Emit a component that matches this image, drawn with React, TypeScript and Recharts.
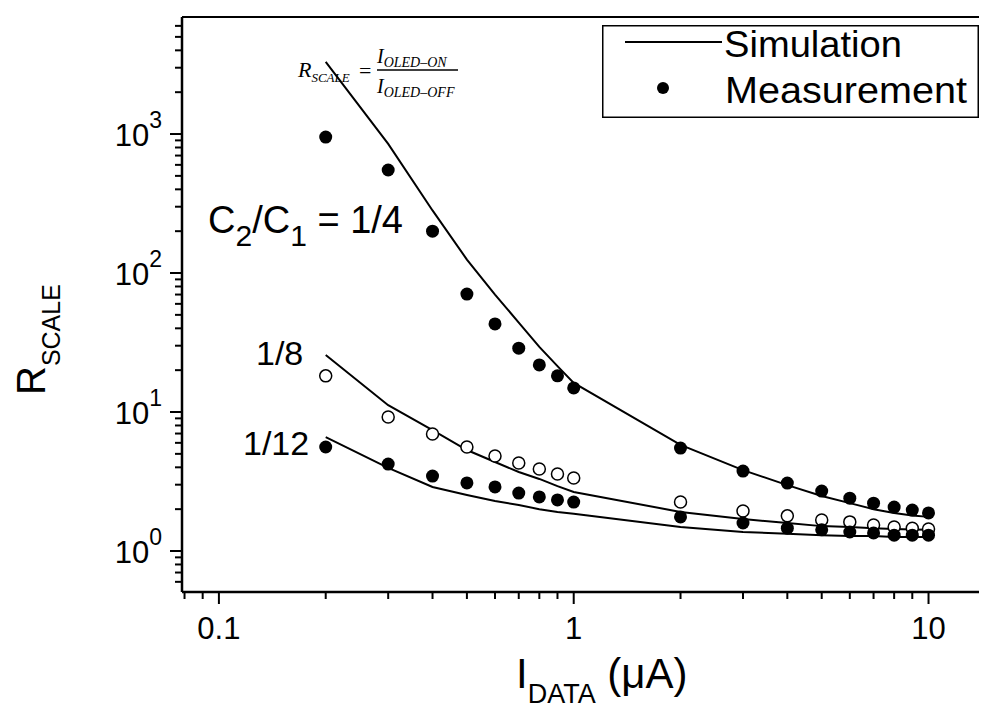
import { ScatterChart, Scatter, XAxis, YAxis, ReferenceLine, Legend } from "recharts";

// I_DATA (uA) where both simulation and measurement were read
const currents = [0.2, 0.3, 0.4, 0.5, 0.6, 0.7, 0.8, 0.9, 1, 2, 3, 4, 5, 6, 7, 8, 9, 10];

// R_SCALE, C2/C1 = 1/4
const sim14 = [3300, 850, 282, 125, 70, 44, 29.4, 21.4, 16.2, 5.8, 3.82, 2.98, 2.49, 2.21, 2.0, 1.88, 1.8, 1.76];
const meas14 = [951, 551, 200, 70.6, 43, 28.8, 21.8, 18.2, 14.9, 5.5, 3.76, 3.08, 2.7, 2.4, 2.21, 2.07, 1.97, 1.88];
// C2/C1 = 1/8
const sim18 = [25.7, 11.2, 7.42, 5.33, 4.37, 3.7, 3.3, 2.93, 2.66, 1.91, 1.7, 1.59, 1.51, 1.49, 1.46, 1.44, 1.43, 1.42];
const meas18 = [18.2, 9.2, 6.95, 5.6, 4.82, 4.3, 3.89, 3.58, 3.35, 2.25, 1.94, 1.79, 1.67, 1.62, 1.54, 1.49, 1.46, 1.44];
// C2/C1 = 1/12
const sim112 = [6.6, 3.96, 2.89, 2.53, 2.29, 2.14, 2.0, 1.91, 1.85, 1.49, 1.37, 1.33, 1.3, 1.28, 1.28, 1.26, 1.26, 1.26];
const meas112 = [5.6, 4.22, 3.46, 3.09, 2.89, 2.61, 2.45, 2.33, 2.25, 1.76, 1.59, 1.46, 1.42, 1.37, 1.35, 1.3, 1.3, 1.3];

const xTicks = [0.08, 0.09, 0.1, 0.2, 0.3, 0.4, 0.5, 0.6, 0.7, 0.8, 0.9, 1, 2, 3, 4, 5, 6, 7, 8, 9, 10];
const yTicks = [
  0.6, 0.7, 0.8, 0.9, 1, 2, 3, 4, 5, 6, 7, 8, 9, 10, 20, 30, 40, 50, 60, 70, 80, 90,
  100, 200, 300, 400, 500, 600, 700, 800, 900, 1000, 2000, 3000, 4000, 5000, 6000,
];
const xLabels: Record<string, string> = { "0.1": "0.1", "1": "1", "10": "10" };
const legendNames = ["Simulation", "Measurement"];

const X_DOMAIN = [0.0787, 15];
const Y_DOMAIN = [0.507, 6950];

const pts = (ys: number[]) => currents.map((x, i) => ({ x, y: ys[i] }));

const isMajor = (v: number) => {
  const l = Math.log10(v);
  return Math.abs(l - Math.round(l)) < 1e-6;
};

const FONT = "'Liberation Sans', Arial, sans-serif";

const XTick = (p: any) => {
  const { x, y, payload } = p;
  const major = isMajor(payload.value);
  return (
    <g>
      <line x1={x} x2={x} y1={y} y2={y + (major ? 12 : 7)} stroke="#000" strokeWidth={2} />
      {major && (
        <text x={x} y={y + 47} textAnchor="middle" fontSize={31} fill="#000">
          {xLabels[String(payload.value)]}
        </text>
      )}
    </g>
  );
};

const YTick = (p: any) => {
  const { x, y, payload } = p;
  const major = isMajor(payload.value);
  return (
    <g>
      <line x1={x} x2={x - (major ? 12 : 7)} y1={y} y2={y} stroke="#000" strokeWidth={2} />
      {major && (
        <text x={x - 20} y={y + 12} textAnchor="end" fontSize={31} fill="#000">
          10
          <tspan fontSize={23} dy={-18}>
            {Math.round(Math.log10(payload.value))}
          </tspan>
        </text>
      )}
    </g>
  );
};

const dot = (p: any) => <circle cx={p.cx} cy={p.cy} r={6.5} fill="#000" />;
const ring = (p: any) => <circle cx={p.cx} cy={p.cy} r={6} fill="#fff" stroke="#000" strokeWidth={1.5} />;
const none = () => <g />;

const LegendBox = () => (
  <svg width={377} height={93} style={{ display: "block" }}>
    <rect x={0.75} y={0.75} width={375.5} height={91.5} fill="#fff" stroke="#000" strokeWidth={1.5} />
    <line x1={23} x2={120} y1={17} y2={17} stroke="#000" strokeWidth={2} />
    <text x={122} y={32} fontSize={36} fill="#000" textLength={178} lengthAdjust="spacingAndGlyphs">
      {legendNames[0]}
    </text>
    <circle cx={61} cy={63} r={6} fill="#000" />
    <text x={123} y={78} fontSize={36} fill="#000" textLength={242} lengthAdjust="spacingAndGlyphs">
      {legendNames[1]}
    </text>
  </svg>
);

export default function App() {
  const serif = "'Liberation Serif', 'Times New Roman', serif";
  return (
    <div style={{ position: "relative", width: 979, height: 705, overflow: "hidden", fontFamily: FONT }}>
      <ScatterChart width={1000} height={705} margin={{ top: 9, right: 17, bottom: 21, left: 14 }}>
        <XAxis
          type="number"
          dataKey="x"
          scale="log"
          domain={X_DOMAIN}
          allowDataOverflow
          ticks={xTicks}
          interval={0}
          tick={(p: any) => <XTick {...p} />}
          tickSize={0}
          tickMargin={0}
          tickLine={false}
          axisLine={{ stroke: "#000", strokeWidth: 2.5 }}
          height={100}
        />
        <YAxis
          type="number"
          dataKey="y"
          scale="log"
          domain={Y_DOMAIN}
          allowDataOverflow
          ticks={yTicks}
          interval={0}
          tick={(p: any) => <YTick {...p} />}
          tickSize={0}
          tickMargin={0}
          tickLine={false}
          axisLine={{ stroke: "#000", strokeWidth: 2.5 }}
          width={160}
        />
        <ReferenceLine y={Y_DOMAIN[1]} stroke="#000" strokeWidth={2} />
        <Legend
          layout="vertical"
          align="center"
          verticalAlign="middle"
          wrapperStyle={{ position: "absolute", left: 594, top: 17, width: 377, height: 93 }}
          content={() => <LegendBox />}
        />
        <Scatter data={pts(sim14)} line={{ stroke: "#000", strokeWidth: 2 }} shape={none} isAnimationActive={false} />
        <Scatter data={pts(sim18)} line={{ stroke: "#000", strokeWidth: 2 }} shape={none} isAnimationActive={false} />
        <Scatter data={pts(sim112)} line={{ stroke: "#000", strokeWidth: 2 }} shape={none} isAnimationActive={false} />
        <Scatter data={pts(meas14)} shape={dot} isAnimationActive={false} />
        <Scatter data={pts(meas18)} shape={ring} isAnimationActive={false} />
        <Scatter data={pts(meas112)} shape={dot} isAnimationActive={false} />
      </ScatterChart>

      <svg width={979} height={705} style={{ position: "absolute", left: 0, top: 0, pointerEvents: "none" }}>
        {/* axis titles */}
        <text x={508} y={680} fontSize={42} fill="#000">
          I<tspan fontSize={27} dy={15}>DATA</tspan>
          <tspan fontSize={42} dy={-15}> (μA)</tspan>
        </text>
        <text transform="rotate(-90)" x={-387} y={37} fontSize={40} fill="#000">
          R<tspan fontSize={25} dy={15}>SCALE</tspan>
        </text>

        {/* curve labels */}
        <text x={200} y={225} fontSize={38} fill="#000">
          C<tspan fontSize={30} dy={13}>2</tspan>
          <tspan dy={-13}>/C</tspan>
          <tspan fontSize={30} dy={13}>1</tspan>
          <tspan dy={-13}> = 1/4</tspan>
        </text>
        <text x={248} y={357} fontSize={34} fill="#000">1/8</text>
        <text x={235} y={447} fontSize={34} fill="#000">1/12</text>

        {/* R_SCALE definition */}
        <g fontFamily={serif} fontStyle="italic" fill="#000">
          <text x={290} y={69} fontSize={22}>
            R<tspan fontSize={13} dy={5}>SCALE</tspan>
          </text>
          <text x={351} y={70} fontSize={22} fontStyle="normal">=</text>
          <line x1={369} x2={450} y1={62} y2={62} stroke="#000" strokeWidth={1.5} />
          <text x={369} y={55} fontSize={20}>
            I<tspan fontSize={14} dy={4}>OLED–ON</tspan>
          </text>
          <text x={369} y={85} fontSize={20}>
            I<tspan fontSize={14} dy={4}>OLED–OFF</tspan>
          </text>
        </g>
      </svg>
    </div>
  );
}
